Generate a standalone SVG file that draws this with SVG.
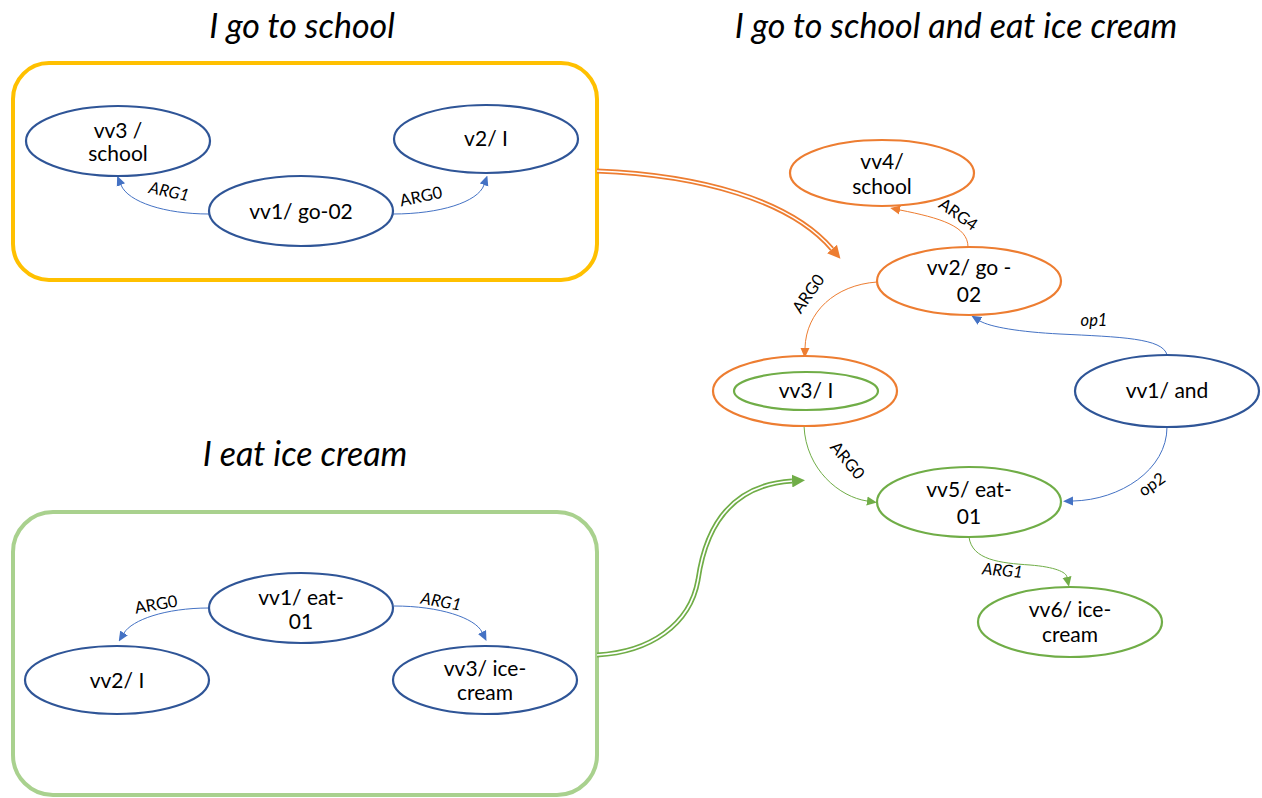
<svg xmlns="http://www.w3.org/2000/svg" width="1262" height="798" viewBox="0 0 1262 798">
<style>
.title{font-family:Lato,"Open Sans",sans-serif;font-style:italic;font-size:34px;fill:#000;text-anchor:middle}
.nt{font-family:Lato,"Open Sans",sans-serif;font-size:21px;fill:#000;text-anchor:middle}
.lb{font-family:Lato,"Open Sans",sans-serif;font-size:16.5px;fill:#000;text-anchor:middle}
.it{font-style:italic}
.nb{fill:#fff;stroke:#2F5597;stroke-width:2.2}
.no{fill:#fff;stroke:#ED7D31;stroke-width:2.2}
.ng{fill:#fff;stroke:#70AD47;stroke-width:2.2}
.eb{fill:none;stroke:#4472C4;stroke-width:1}
.eo{fill:none;stroke:#ED7D31;stroke-width:1}
.eg{fill:none;stroke:#70AD47;stroke-width:1}
</style>
<defs>
<marker id="ab" markerUnits="userSpaceOnUse" markerWidth="10" markerHeight="10" refX="0" refY="5" orient="auto"><path d="M0,0.5 L10,5 L0,9.5 z" fill="#4472C4"/></marker>
<marker id="ao" markerUnits="userSpaceOnUse" markerWidth="10" markerHeight="10" refX="0" refY="5" orient="auto"><path d="M0,0.5 L10,5 L0,9.5 z" fill="#ED7D31"/></marker>
<marker id="ag" markerUnits="userSpaceOnUse" markerWidth="10" markerHeight="10" refX="0" refY="5" orient="auto"><path d="M0,0.5 L10,5 L0,9.5 z" fill="#70AD47"/></marker>
<marker id="bo" markerUnits="userSpaceOnUse" markerWidth="13" markerHeight="13" refX="0" refY="6.5" orient="auto"><path d="M0,0 L13,6.5 L0,13 z" fill="#ED7D31"/></marker>
<marker id="bg" markerUnits="userSpaceOnUse" markerWidth="13" markerHeight="13" refX="0" refY="6.5" orient="auto"><path d="M0,0 L13,6.5 L0,13 z" fill="#70AD47"/></marker>
</defs>
<rect width="1262" height="798" fill="#fff"/>

<text class="title" x="302" y="38">I go to school</text>
<text class="title" x="956" y="38">I go to school and eat ice cream</text>
<text class="title" x="305" y="466">I eat ice cream</text>

<g id="box-school">
<rect x="13" y="63" width="584" height="217" rx="36" ry="36" fill="none" stroke="#FFC000" stroke-width="4"/>
</g>
<g id="box-icecream">
<rect x="13" y="512" width="584" height="283" rx="40" ry="40" fill="none" stroke="#A9D18E" stroke-width="4"/>
</g>

<g id="connectors">
<path class="eb" d="M209,214 C165,214 128,202 121,185" marker-end="url(#ab)"/>
<path class="eb" d="M393,214 C440,214 478,202 484,185" marker-end="url(#ab)"/>
<path class="eb" d="M209,608 C165,608 132,620 124,633" marker-end="url(#ab)"/>
<path class="eb" d="M394,606 C440,606 475,618 482,632" marker-end="url(#ab)"/>
<path class="eo" d="M968,247 C968,226 940,218 900,210" marker-end="url(#ao)"/>
<path class="eo" d="M877,282 C835,285 806,312 805,348" marker-end="url(#ao)"/>
<path class="eb" d="M1167,355 C1163,338 1120,337 1060,334 C1020,332 990,327 980,321" marker-end="url(#ab)"/>
<path class="eb" d="M1167,427 C1167,470 1120,500 1073,501" marker-end="url(#ab)"/>
<path class="eg" d="M804,426 C806,470 840,497 867,501" marker-end="url(#ag)"/>
<path class="eg" d="M969,537 C972,560 1000,563 1030,565 C1055,567 1066,572 1067,577" marker-end="url(#ag)"/>
<path d="M597,171 C700,175 790,200 832,249" fill="none" stroke="#ED7D31" stroke-width="5" marker-end="url(#bo)"/>
<path d="M597,171 C700,175 790,200 832,249" fill="none" stroke="#fff" stroke-width="1.6"/>
<path d="M597,655 C650,652 690,625 698,580 C708,510 745,484 792,481" fill="none" stroke="#70AD47" stroke-width="5" marker-end="url(#bg)"/>
<path d="M597,655 C650,652 690,625 698,580 C708,510 745,484 792,481" fill="none" stroke="#fff" stroke-width="1.6"/>
<text class="lb it" transform="translate(168,197) rotate(12)">ARG1</text>
<text class="lb" transform="translate(422,202) rotate(-12)">ARG0</text>
<text class="lb" transform="translate(157,610) rotate(-10)">ARG0</text>
<text class="lb it" transform="translate(440,607) rotate(10)">ARG1</text>
<text class="lb" transform="translate(955,219) rotate(35)">ARG4</text>
<text class="lb" transform="translate(813,297) rotate(-55)">ARG0</text>
<text class="lb it" x="1094" y="326">op1</text>
<text class="lb" transform="translate(1155,489) rotate(-35)">op2</text>
<text class="lb" transform="translate(843,464) rotate(50)">ARG0</text>
<text class="lb it" transform="translate(1002,576) rotate(5)">ARG1</text>
</g>

<g id="s-vv3"><ellipse class="nb" cx="118" cy="141" rx="92" ry="35"/><text class="nt" x="118" y="138">vv3 /</text><text class="nt" x="118" y="161">school</text></g>
<g id="s-v2"><ellipse class="nb" cx="486" cy="139" rx="92" ry="34"/><text class="nt" x="486" y="146">v2/ I</text></g>
<g id="s-vv1"><ellipse class="nb" cx="301" cy="211" rx="92" ry="35"/><text class="nt" x="301" y="219">vv1/ go-02</text></g>

<g id="e-vv1"><ellipse class="nb" cx="301" cy="608" rx="92" ry="35"/><text class="nt" x="301" y="605">vv1/ eat-</text><text class="nt" x="301" y="629">01</text></g>
<g id="e-vv2"><ellipse class="nb" cx="117" cy="680" rx="92" ry="34"/><text class="nt" x="117" y="688">vv2/ I</text></g>
<g id="e-vv3"><ellipse class="nb" cx="485" cy="680" rx="92" ry="34"/><text class="nt" x="485" y="676">vv3/ ice-</text><text class="nt" x="485" y="700">cream</text></g>

<g id="c-vv4"><ellipse class="no" cx="882" cy="173" rx="92" ry="33"/><text class="nt" x="882" y="169">vv4/</text><text class="nt" x="882" y="194">school</text></g>
<g id="c-vv2"><ellipse class="no" cx="969" cy="281" rx="92" ry="34"/><text class="nt" x="969" y="275">vv2/ go -</text><text class="nt" x="969" y="302">02</text></g>
<g id="c-vv3"><ellipse class="no" cx="805" cy="391" rx="92" ry="35"/><ellipse class="ng" cx="806" cy="391" rx="72" ry="19"/><text class="nt" x="806" y="398">vv3/ I</text></g>
<g id="c-vv1"><ellipse class="nb" cx="1167" cy="391" rx="92" ry="36"/><text class="nt" x="1167" y="398">vv1/ and</text></g>
<g id="c-vv5"><ellipse class="ng" cx="969" cy="502" rx="92" ry="35"/><text class="nt" x="969" y="497">vv5/ eat-</text><text class="nt" x="969" y="524">01</text></g>
<g id="c-vv6"><ellipse class="ng" cx="1070" cy="622" rx="92" ry="35"/><text class="nt" x="1070" y="617">vv6/ ice-</text><text class="nt" x="1070" y="642">cream</text></g>
</svg>
